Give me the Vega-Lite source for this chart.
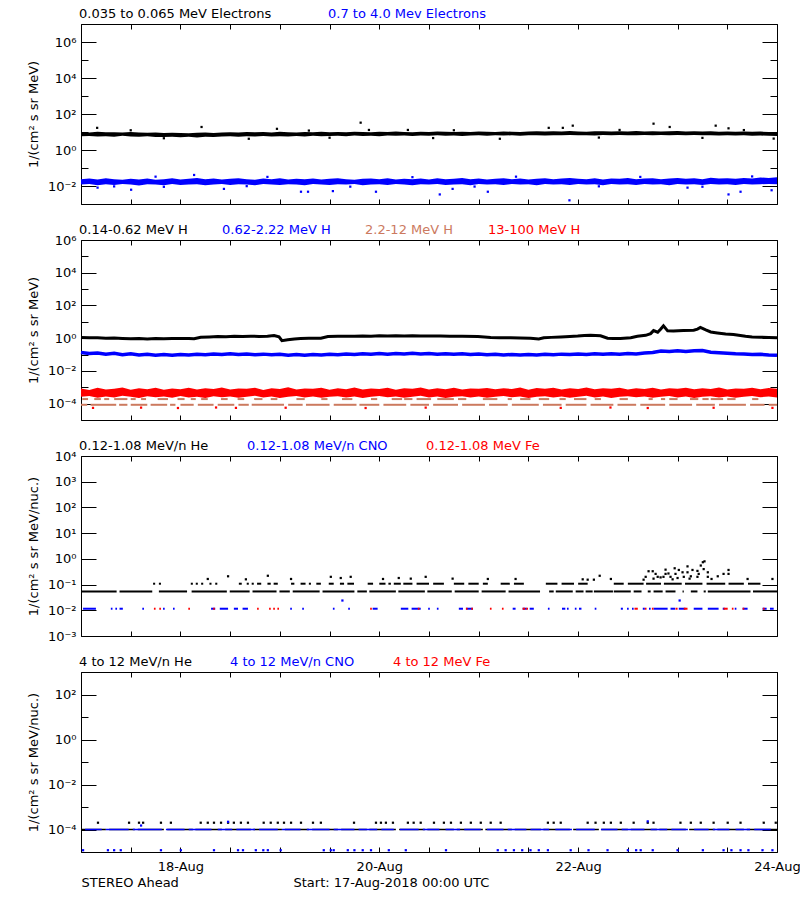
{
"$schema": "https://vega.github.io/schema/vega-lite/v6.json",
"background": "white",
"padding": {"left": 26, "top": 6, "right": 0, "bottom": 0},
"spacing": 36,
"bounds": "flush",
"resolve": {"scale": {"color": "independent"}, "legend": {"color": "independent"}},
"config": {
  "font": "DejaVu Sans",
  "view": {"stroke": "black", "strokeWidth": 1},
  "axis": {"grid": false, "domain": false, "tickColor": "black", "tickWidth": 1, "labelColor": "black", "labelFont": "DejaVu Sans", "labelFontSize": 13, "titleColor": "black", "titleFont": "DejaVu Sans", "titleFontSize": 13, "titleFontWeight": "normal", "labelOverlap": false, "labelFlush": false},
  "legend": {"labelFont": "DejaVu Sans", "labelFontSize": 13}
},
"datasets": {
"p1": [
{"h":0,"k1":5.8,"k2":9.9,"b1":0.012,"b2":0.024},
{"h":2,"k1":6.0,"k2":9.4,"b1":0.013,"b2":0.026},
{"h":4,"k1":5.6,"k2":10.2,"b1":0.011,"b2":0.023},
{"h":6,"k1":5.9,"k2":9.6,"b1":0.0125,"b2":0.027},
{"h":8,"k1":5.5,"k2":9.8,"b1":0.0115,"b2":0.024},
{"h":10,"k1":6.1,"k2":9.3,"b1":0.013,"b2":0.022},
{"h":12,"k1":5.7,"k2":10.0,"b1":0.012,"b2":0.025},
{"h":14,"k1":5.4,"k2":9.5,"b1":0.0105,"b2":0.023},
{"h":16,"k1":5.8,"k2":9.1,"b1":0.0125,"b2":0.026},
{"h":18,"k1":5.3,"k2":9.4,"b1":0.012,"b2":0.022},
{"h":20,"k1":5.2,"k2":8.8,"b1":0.011,"b2":0.024},
{"h":22,"k1":5.5,"k2":9.2,"b1":0.013,"b2":0.027},
{"h":24,"k1":5.1,"k2":8.9,"b1":0.0115,"b2":0.023},
{"h":26,"k1":5.4,"k2":8.6,"b1":0.012,"b2":0.025},
{"h":28,"k1":5.0,"k2":9.0,"b1":0.0125,"b2":0.028},
{"h":30,"k1":5.5,"k2":9.3,"b1":0.011,"b2":0.024},
{"h":32,"k1":5.3,"k2":8.9,"b1":0.012,"b2":0.026},
{"h":34,"k1":5.6,"k2":9.5,"b1":0.013,"b2":0.023},
{"h":36,"k1":5.9,"k2":9.8,"b1":0.0115,"b2":0.025},
{"h":38,"k1":5.5,"k2":9.4,"b1":0.0125,"b2":0.027},
{"h":40,"k1":5.8,"k2":10.1,"b1":0.012,"b2":0.024},
{"h":42,"k1":5.6,"k2":9.6,"b1":0.011,"b2":0.022},
{"h":44,"k1":6.0,"k2":9.9,"b1":0.013,"b2":0.026},
{"h":46,"k1":5.7,"k2":9.4,"b1":0.012,"b2":0.024},
{"h":48,"k1":5.9,"k2":10.2,"b1":0.0115,"b2":0.027},
{"h":50,"k1":5.6,"k2":9.7,"b1":0.0125,"b2":0.023},
{"h":52,"k1":6.0,"k2":9.5,"b1":0.012,"b2":0.025},
{"h":54,"k1":5.7,"k2":10.0,"b1":0.011,"b2":0.024},
{"h":56,"k1":6.1,"k2":9.6,"b1":0.013,"b2":0.026},
{"h":58,"k1":5.8,"k2":10.3,"b1":0.012,"b2":0.023},
{"h":60,"k1":6.0,"k2":9.8,"b1":0.0115,"b2":0.025},
{"h":62,"k1":6.2,"k2":10.1,"b1":0.0125,"b2":0.027},
{"h":64,"k1":5.9,"k2":9.7,"b1":0.012,"b2":0.024},
{"h":66,"k1":6.3,"k2":10.4,"b1":0.013,"b2":0.022},
{"h":68,"k1":6.0,"k2":10.0,"b1":0.011,"b2":0.025},
{"h":70,"k1":6.2,"k2":9.6,"b1":0.012,"b2":0.026},
{"h":72,"k1":5.9,"k2":10.2,"b1":0.0125,"b2":0.024},
{"h":74,"k1":6.3,"k2":9.9,"b1":0.0115,"b2":0.027},
{"h":76,"k1":6.1,"k2":10.5,"b1":0.013,"b2":0.023},
{"h":78,"k1":6.4,"k2":10.1,"b1":0.012,"b2":0.025},
{"h":80,"k1":6.0,"k2":9.8,"b1":0.011,"b2":0.024},
{"h":82,"k1":6.3,"k2":10.3,"b1":0.0125,"b2":0.026},
{"h":84,"k1":6.1,"k2":9.9,"b1":0.012,"b2":0.023},
{"h":86,"k1":6.5,"k2":10.6,"b1":0.013,"b2":0.027},
{"h":88,"k1":6.2,"k2":10.2,"b1":0.0115,"b2":0.024},
{"h":90,"k1":6.4,"k2":9.9,"b1":0.012,"b2":0.025},
{"h":92,"k1":6.0,"k2":10.4,"b1":0.0125,"b2":0.028},
{"h":94,"k1":6.3,"k2":10.0,"b1":0.011,"b2":0.024},
{"h":96,"k1":6.6,"k2":10.7,"b1":0.013,"b2":0.026},
{"h":98,"k1":6.2,"k2":10.3,"b1":0.012,"b2":0.023},
{"h":100,"k1":6.5,"k2":10.1,"b1":0.0125,"b2":0.025},
{"h":102,"k1":6.3,"k2":10.8,"b1":0.0115,"b2":0.027},
{"h":104,"k1":6.6,"k2":10.4,"b1":0.013,"b2":0.024},
{"h":106,"k1":6.2,"k2":10.0,"b1":0.012,"b2":0.026},
{"h":108,"k1":6.5,"k2":10.6,"b1":0.0125,"b2":0.023},
{"h":110,"k1":6.7,"k2":10.9,"b1":0.011,"b2":0.025},
{"h":112,"k1":6.4,"k2":10.5,"b1":0.013,"b2":0.027},
{"h":114,"k1":6.7,"k2":11.0,"b1":0.012,"b2":0.024},
{"h":116,"k1":6.5,"k2":10.7,"b1":0.0125,"b2":0.026},
{"h":118,"k1":6.8,"k2":11.2,"b1":0.0115,"b2":0.028},
{"h":120,"k1":6.5,"k2":10.8,"b1":0.013,"b2":0.025},
{"h":122,"k1":6.7,"k2":10.4,"b1":0.012,"b2":0.024},
{"h":124,"k1":6.4,"k2":10.9,"b1":0.0125,"b2":0.027},
{"h":126,"k1":6.8,"k2":11.1,"b1":0.011,"b2":0.023},
{"h":128,"k1":6.6,"k2":10.6,"b1":0.013,"b2":0.026},
{"h":130,"k1":6.9,"k2":11.0,"b1":0.012,"b2":0.025},
{"h":132,"k1":6.5,"k2":10.7,"b1":0.0125,"b2":0.028},
{"h":134,"k1":6.7,"k2":11.2,"b1":0.0115,"b2":0.024},
{"h":136,"k1":6.9,"k2":10.8,"b1":0.013,"b2":0.026},
{"h":138,"k1":6.6,"k2":11.1,"b1":0.012,"b2":0.027},
{"h":140,"k1":6.8,"k2":10.6,"b1":0.0125,"b2":0.024},
{"h":142,"k1":6.5,"k2":10.9,"b1":0.011,"b2":0.026},
{"h":144,"k1":6.8,"k2":11.3,"b1":0.013,"b2":0.028},
{"h":146,"k1":6.6,"k2":10.8,"b1":0.012,"b2":0.025},
{"h":148,"k1":6.9,"k2":11.0,"b1":0.0125,"b2":0.027},
{"h":150,"k1":6.5,"k2":10.5,"b1":0.0115,"b2":0.024},
{"h":152,"k1":6.7,"k2":10.9,"b1":0.013,"b2":0.029},
{"h":154,"k1":6.4,"k2":10.4,"b1":0.012,"b2":0.026},
{"h":156,"k1":6.6,"k2":10.8,"b1":0.0125,"b2":0.027},
{"h":158,"k1":6.3,"k2":10.3,"b1":0.0115,"b2":0.025},
{"h":160,"k1":6.5,"k2":10.6,"b1":0.013,"b2":0.028},
{"h":162,"k1":6.2,"k2":10.2,"b1":0.012,"b2":0.026},
{"h":164,"k1":6.4,"k2":10.5,"b1":0.0125,"b2":0.03},
{"h":166,"k1":6.1,"k2":10.0,"b1":0.013,"b2":0.028},
{"h":168,"k1":6.0,"k2":9.9,"b1":0.0125,"b2":0.031}
],
"p1k": [
{"h":3.9,"v":17},{"h":29.1,"v":19},{"h":40.5,"v":4.2},{"h":47.3,"v":15},{"h":67.5,"v":33},{"h":69.5,"v":13},{"h":78.9,"v":13},{"h":101.1,"v":4.2},{"h":112.9,"v":17},{"h":116.3,"v":17},{"h":118.7,"v":22.5},{"h":138.2,"v":29},{"h":142.1,"v":19},{"h":153.2,"v":22.5},{"h":156.3,"v":16},{"h":167.2,"v":4.3},{"h":12,"v":12.5},{"h":55,"v":12},{"h":90,"v":12.5},{"h":130,"v":13},{"h":20,"v":4.5},{"h":60,"v":4.8},{"h":85,"v":4.6},{"h":125,"v":4.9},{"h":150,"v":4.7},{"h":160,"v":12.8}
],
"p1b": [
{"h":4,"v":0.0081},{"h":12.1,"v":0.0062},{"h":27.3,"v":0.041},{"h":34.5,"v":0.0069},{"h":53.1,"v":0.0048},{"h":54.8,"v":0.0048},{"h":60.8,"v":0.0052},{"h":71.2,"v":0.0048},{"h":86.6,"v":0.0034},{"h":89.7,"v":0.0069},{"h":98.2,"v":0.0048},{"h":117.9,"v":0.0016},{"h":146.4,"v":0.0081},{"h":156.3,"v":0.0034},{"h":159.2,"v":0.0048},{"h":166.7,"v":0.0058},{"h":8,"v":0.0095},{"h":20,"v":0.009},{"h":40,"v":0.0098},{"h":65,"v":0.0092},{"h":80,"v":0.031},{"h":95,"v":0.0093},{"h":105,"v":0.033},{"h":125,"v":0.0096},{"h":135,"v":0.032},{"h":150,"v":0.0091},{"h":162,"v":0.034},{"h":45,"v":0.032},{"h":18,"v":0.033}
],
"p2k": [
{"h":0,"v":1.1},{"h":2,"v":1.05},{"h":4,"v":1.08},{"h":6,"v":1.0},{"h":8,"v":1.03},{"h":10,"v":0.97},{"h":12,"v":0.92},{"h":14,"v":0.95},{"h":16,"v":0.9},{"h":18,"v":0.94},{"h":20,"v":0.93},{"h":22,"v":0.97},{"h":24,"v":0.95},{"h":26,"v":0.96},{"h":27.3,"v":0.93},{"h":28.9,"v":1.15},{"h":31,"v":1.2},{"h":33,"v":1.25},{"h":35,"v":1.22},{"h":37,"v":1.3},{"h":39,"v":1.26},{"h":41,"v":1.32},{"h":43,"v":1.28},{"h":45,"v":1.33},{"h":46.6,"v":1.45},{"h":47.8,"v":1.2},{"h":48.5,"v":0.7},{"h":49.9,"v":0.8},{"h":51.5,"v":0.9},{"h":53,"v":0.95},{"h":55,"v":0.98},{"h":57.9,"v":1.0},{"h":59.6,"v":1.25},{"h":62,"v":1.3},{"h":64,"v":1.33},{"h":66,"v":1.3},{"h":68,"v":1.36},{"h":70,"v":1.33},{"h":72,"v":1.4},{"h":74,"v":1.37},{"h":76,"v":1.42},{"h":78,"v":1.38},{"h":80,"v":1.4},{"h":82,"v":1.36},{"h":84,"v":1.38},{"h":86.8,"v":1.35},{"h":89,"v":1.32},{"h":92,"v":1.3},{"h":95.8,"v":1.25},{"h":98.9,"v":1.1},{"h":101,"v":1.08},{"h":103.7,"v":1.05},{"h":106,"v":1.02},{"h":108.5,"v":1.0},{"h":110.5,"v":0.9},{"h":111.7,"v":1.05},{"h":113.5,"v":1.12},{"h":115.8,"v":1.2},{"h":118,"v":1.28},{"h":119.9,"v":1.35},{"h":121.5,"v":1.45},{"h":123,"v":1.5},{"h":125.4,"v":1.4},{"h":127.1,"v":1.0},{"h":128.5,"v":0.95},{"h":130.2,"v":0.95},{"h":132.7,"v":1.05},{"h":134.3,"v":1.3},{"h":136.3,"v":1.5},{"h":137.5,"v":1.9},{"h":138.2,"v":2.9},{"h":139.2,"v":2.3},{"h":139.9,"v":3.5},{"h":140.6,"v":5.7},{"h":141.6,"v":2.8},{"h":143,"v":2.7},{"h":145.4,"v":2.9},{"h":147.9,"v":3.1},{"h":148.8,"v":3.6},{"h":149.5,"v":4.5},{"h":150.8,"v":3.2},{"h":152,"v":2.4},{"h":153.6,"v":2.1},{"h":155.6,"v":1.8},{"h":157.5,"v":1.7},{"h":160.4,"v":1.3},{"h":162,"v":1.2},{"h":164,"v":1.15},{"h":166,"v":1.1},{"h":168,"v":1.05}
],
"p2": [
{"h":0,"b":0.135,"r1":0.00026,"r2":0.00085},
{"h":2,"b":0.115,"r1":0.00029,"r2":0.00068},
{"h":4,"b":0.125,"r1":0.00023,"r2":0.00092},
{"h":6,"b":0.105,"r1":0.00027,"r2":0.00074},
{"h":8,"b":0.118,"r1":0.00024,"r2":0.0008},
{"h":10,"b":0.098,"r1":0.0003,"r2":0.00098},
{"h":12,"b":0.11,"r1":0.00026,"r2":0.00071},
{"h":14,"b":0.095,"r1":0.00022,"r2":0.00088},
{"h":16,"b":0.105,"r1":0.00028,"r2":0.00076},
{"h":18,"b":0.092,"r1":0.00025,"r2":0.00095},
{"h":20,"b":0.1,"r1":0.00027,"r2":0.0007},
{"h":22,"b":0.09,"r1":0.00023,"r2":0.00083},
{"h":24,"b":0.102,"r1":0.00029,"r2":0.00077},
{"h":26,"b":0.094,"r1":0.00024,"r2":0.00093},
{"h":28,"b":0.105,"r1":0.00026,"r2":0.00072},
{"h":30,"b":0.097,"r1":0.00022,"r2":0.00086},
{"h":32,"b":0.108,"r1":0.00028,"r2":0.00079},
{"h":34,"b":0.099,"r1":0.00025,"r2":0.00097},
{"h":36,"b":0.11,"r1":0.00027,"r2":0.00073},
{"h":38,"b":0.1,"r1":0.00023,"r2":0.00084},
{"h":40,"b":0.107,"r1":0.00026,"r2":0.0008},
{"h":42,"b":0.097,"r1":0.0003,"r2":0.00094},
{"h":44,"b":0.106,"r1":0.00024,"r2":0.00069},
{"h":46,"b":0.096,"r1":0.00027,"r2":0.00087},
{"h":48,"b":0.103,"r1":0.00022,"r2":0.00078},
{"h":50,"b":0.092,"r1":0.00026,"r2":0.00099},
{"h":52,"b":0.1,"r1":0.00029,"r2":0.00074},
{"h":54,"b":0.091,"r1":0.00024,"r2":0.00085},
{"h":56,"b":0.099,"r1":0.00027,"r2":0.0008},
{"h":58,"b":0.093,"r1":0.00023,"r2":0.00092},
{"h":60,"b":0.104,"r1":0.00026,"r2":0.00071},
{"h":62,"b":0.097,"r1":0.00028,"r2":0.00088},
{"h":64,"b":0.108,"r1":0.00024,"r2":0.00076},
{"h":66,"b":0.1,"r1":0.00027,"r2":0.00096},
{"h":68,"b":0.112,"r1":0.00022,"r2":0.00073},
{"h":70,"b":0.103,"r1":0.00026,"r2":0.00084},
{"h":72,"b":0.115,"r1":0.00029,"r2":0.00079},
{"h":74,"b":0.106,"r1":0.00025,"r2":0.00093},
{"h":76,"b":0.117,"r1":0.00027,"r2":0.0007},
{"h":78,"b":0.108,"r1":0.00023,"r2":0.00086},
{"h":80,"b":0.118,"r1":0.00026,"r2":0.00081},
{"h":82,"b":0.109,"r1":0.0003,"r2":0.00097},
{"h":84,"b":0.116,"r1":0.00024,"r2":0.00074},
{"h":86,"b":0.106,"r1":0.00027,"r2":0.00088},
{"h":88,"b":0.113,"r1":0.00022,"r2":0.00077},
{"h":90,"b":0.104,"r1":0.00026,"r2":0.00095},
{"h":92,"b":0.11,"r1":0.00028,"r2":0.00072},
{"h":94,"b":0.1,"r1":0.00024,"r2":0.00085},
{"h":96,"b":0.107,"r1":0.00027,"r2":0.0008},
{"h":98,"b":0.097,"r1":0.00023,"r2":0.00091},
{"h":100,"b":0.104,"r1":0.00026,"r2":0.00075},
{"h":102,"b":0.095,"r1":0.00029,"r2":0.00087},
{"h":104,"b":0.102,"r1":0.00025,"r2":0.00078},
{"h":106,"b":0.094,"r1":0.00027,"r2":0.00096},
{"h":108,"b":0.101,"r1":0.00022,"r2":0.00071},
{"h":110,"b":0.093,"r1":0.00026,"r2":0.00089},
{"h":112,"b":0.103,"r1":0.00028,"r2":0.00082},
{"h":114,"b":0.096,"r1":0.00024,"r2":0.00094},
{"h":116,"b":0.106,"r1":0.00027,"r2":0.00073},
{"h":118,"b":0.099,"r1":0.00023,"r2":0.00086},
{"h":120,"b":0.108,"r1":0.00026,"r2":0.00079},
{"h":122,"b":0.1,"r1":0.0003,"r2":0.00098},
{"h":124,"b":0.11,"r1":0.00024,"r2":0.00076},
{"h":126,"b":0.103,"r1":0.00027,"r2":0.00088},
{"h":128,"b":0.112,"r1":0.00022,"r2":0.00081},
{"h":130,"b":0.105,"r1":0.00026,"r2":0.00093},
{"h":132,"b":0.114,"r1":0.00028,"r2":0.00074},
{"h":134,"b":0.108,"r1":0.00025,"r2":0.00087},
{"h":136,"b":0.125,"r1":0.00027,"r2":0.00079},
{"h":138,"b":0.135,"r1":0.00023,"r2":0.00095},
{"h":140,"b":0.165,"r1":0.00026,"r2":0.00072},
{"h":142,"b":0.152,"r1":0.00029,"r2":0.00086},
{"h":144,"b":0.168,"r1":0.00024,"r2":0.0008},
{"h":146,"b":0.155,"r1":0.00027,"r2":0.00092},
{"h":148,"b":0.172,"r1":0.00022,"r2":0.00075},
{"h":150,"b":0.178,"r1":0.00026,"r2":0.00088},
{"h":152,"b":0.14,"r1":0.00028,"r2":0.00078},
{"h":154,"b":0.128,"r1":0.00024,"r2":0.00096},
{"h":156,"b":0.12,"r1":0.00027,"r2":0.00073},
{"h":158,"b":0.112,"r1":0.00023,"r2":0.00085},
{"h":160,"b":0.108,"r1":0.00026,"r2":0.0008},
{"h":162,"b":0.1,"r1":0.00029,"r2":0.00094},
{"h":164,"b":0.104,"r1":0.00025,"r2":0.00077},
{"h":166,"b":0.095,"r1":0.00027,"r2":0.00089},
{"h":168,"b":0.09,"r1":0.00024,"r2":0.00082}
],
"p2s": [
{"s":0,"e":1.5,"v":0.000085},{"s":2.3,"e":8.5,"v":0.000085},{"s":9.2,"e":11.2,"v":0.000085},{"s":12,"e":16,"v":0.000085},{"s":16.8,"e":20.8,"v":0.000085},{"s":21.5,"e":22.8,"v":0.000085},{"s":24,"e":27.2,"v":0.000085},{"s":28.2,"e":32,"v":0.000085},{"s":33,"e":37,"v":0.000085},{"s":38,"e":40.5,"v":0.000085},{"s":41.2,"e":49,"v":0.000085},{"s":50,"e":53.5,"v":0.000085},{"s":54.3,"e":60,"v":0.000085},{"s":61,"e":66.5,"v":0.000085},{"s":67.2,"e":72,"v":0.000085},{"s":73,"e":78.5,"v":0.000085},{"s":79.5,"e":84,"v":0.000085},{"s":85,"e":91,"v":0.000085},{"s":92,"e":97.5,"v":0.000085},{"s":98.5,"e":103,"v":0.000085},{"s":104,"e":110.5,"v":0.000085},{"s":111.5,"e":116,"v":0.000085},{"s":117,"e":122,"v":0.000085},{"s":123,"e":128.5,"v":0.000085},{"s":129.5,"e":134,"v":0.000085},{"s":135,"e":141,"v":0.000085},{"s":142,"e":147.5,"v":0.000085},{"s":148.5,"e":153,"v":0.000085},{"s":154,"e":160.5,"v":0.000085},{"s":161.5,"e":165,"v":0.000085},{"s":166,"e":168,"v":0.000085},
{"s":0.3,"e":1.7,"v":0.00019},{"s":3.2,"e":4.8,"v":0.00019},{"s":5.6,"e":6.8,"v":0.00019},{"s":8,"e":11.2,"v":0.00019},{"s":12,"e":13.2,"v":0.00019},{"s":14.5,"e":15.7,"v":0.00019},{"s":18.5,"e":21,"v":0.00019},{"s":23.3,"e":25,"v":0.00019},{"s":26.5,"e":27.7,"v":0.00019},{"s":29,"e":30.6,"v":0.00019},{"s":33.8,"e":35.4,"v":0.00019},{"s":37.8,"e":39.4,"v":0.00019},{"s":41.8,"e":43.8,"v":0.00019},{"s":45.8,"e":47.4,"v":0.00019},{"s":52,"e":54,"v":0.00019},{"s":58,"e":59.5,"v":0.00019},{"s":63,"e":65.5,"v":0.00019},{"s":70,"e":71.5,"v":0.00019},{"s":75,"e":77.5,"v":0.00019},{"s":78,"e":80,"v":0.00019},{"s":81,"e":84.5,"v":0.00019},{"s":86,"e":90,"v":0.00019},{"s":91,"e":93,"v":0.00019},{"s":97,"e":100.5,"v":0.00019},{"s":103,"e":104,"v":0.00019},{"s":106,"e":108.5,"v":0.00019},{"s":110.5,"e":113,"v":0.00019},{"s":115.5,"e":117,"v":0.00019},{"s":119,"e":122,"v":0.00019},{"s":124,"e":125.5,"v":0.00019},{"s":130,"e":132,"v":0.00019},{"s":137,"e":138,"v":0.00019},{"s":140,"e":141,"v":0.00019},{"s":142,"e":144,"v":0.00019},{"s":147,"e":149,"v":0.00019},{"s":150,"e":151.5,"v":0.00019},{"s":152,"e":155,"v":0.00019},{"s":156,"e":158,"v":0.00019},{"s":162,"e":163.5,"v":0.00019}
],
"p2r": [
{"h":2.9,"v":0.000055},{"h":14.5,"v":0.000057},{"h":23.4,"v":0.000054},{"h":32.6,"v":0.000058},{"h":37.4,"v":0.000055},{"h":49.4,"v":0.000056},{"h":68.7,"v":0.000054},{"h":83.2,"v":0.000057},{"h":115.8,"v":0.000055},{"h":127.8,"v":0.000058},{"h":136.8,"v":0.000054},{"h":152.7,"v":0.000056},{"h":166.9,"v":0.000055}
],
"p3a": [
{"s":0,"e":8.6,"v":0.054},{"s":9.3,"e":17.2,"v":0.054},{"s":18.8,"e":25.6,"v":0.054},{"s":26.7,"e":35.2,"v":0.054},{"s":35.9,"e":40.7,"v":0.054},{"s":41.4,"e":47.2,"v":0.054},{"s":47.9,"e":50.4,"v":0.054},{"s":51.1,"e":57.6,"v":0.054},{"s":58.3,"e":66,"v":0.054},{"s":66.7,"e":69,"v":0.054},{"s":69.6,"e":76,"v":0.054},{"s":76.6,"e":83,"v":0.054},{"s":83.6,"e":89.5,"v":0.054},{"s":90.2,"e":96,"v":0.054},{"s":96.7,"e":102.5,"v":0.054},{"s":103.2,"e":110.8,"v":0.054},{"s":113,"e":114.1,"v":0.054},{"s":114.6,"e":118.7,"v":0.054},{"s":119.4,"e":121.3,"v":0.054},{"s":121.8,"e":123.5,"v":0.054},{"s":123.8,"e":128.4,"v":0.054},{"s":128.6,"e":132.7,"v":0.054},{"s":133.4,"e":135.3,"v":0.054},{"s":136.8,"e":137.5,"v":0.054},{"s":138.2,"e":140.4,"v":0.054},{"s":141.1,"e":143.5,"v":0.054},{"s":145.2,"e":145.5,"v":0.054},{"s":147.2,"e":148.8,"v":0.054},{"s":150.3,"e":150.8,"v":0.054},{"s":151.3,"e":161.6,"v":0.054},{"s":162.2,"e":168,"v":0.054},
{"s":17.4,"e":17.9,"v":0.108},{"s":18.8,"e":19.3,"v":0.108},{"s":26.5,"e":27,"v":0.108},{"s":27.7,"e":28.2,"v":0.108},{"s":29,"e":29.5,"v":0.108},{"s":31,"e":31.5,"v":0.108},{"s":32.4,"e":32.9,"v":0.108},{"s":38.1,"e":38.8,"v":0.108},{"s":40,"e":40.5,"v":0.108},{"s":41.2,"e":41.7,"v":0.108},{"s":42.5,"e":43.5,"v":0.108},{"s":45,"e":45.8,"v":0.108},{"s":46.5,"e":47.5,"v":0.108},{"s":50.7,"e":51.5,"v":0.108},{"s":53,"e":54.2,"v":0.108},{"s":55,"e":55.5,"v":0.108},{"s":56.8,"e":57.9,"v":0.108},{"s":59.8,"e":61,"v":0.108},{"s":62.5,"e":63.5,"v":0.108},{"s":64.3,"e":65.9,"v":0.108},{"s":69.2,"e":70.5,"v":0.108},{"s":72,"e":73.5,"v":0.108},{"s":74.2,"e":74.8,"v":0.108},{"s":75.5,"e":77.2,"v":0.108},{"s":77.8,"e":80,"v":0.108},{"s":81,"e":84,"v":0.108},{"s":85,"e":87.6,"v":0.108},{"s":90,"e":92.5,"v":0.108},{"s":93.5,"e":96,"v":0.108},{"s":97,"e":98.2,"v":0.108},{"s":101.3,"e":103.5,"v":0.108},{"s":104.5,"e":106.9,"v":0.108},{"s":112.2,"e":115,"v":0.108},{"s":116,"e":119,"v":0.108},{"s":120,"e":122.3,"v":0.108},{"s":128.6,"e":131,"v":0.108},{"s":132,"e":135.8,"v":0.108},{"s":136.4,"e":140,"v":0.108},{"s":140.7,"e":145,"v":0.108},{"s":145.8,"e":150,"v":0.108},{"s":151,"e":155.5,"v":0.108},{"s":156.3,"e":160,"v":0.108},{"s":161,"e":164,"v":0.108}
],
"p3k": [
{"h":30.6,"v":0.165},{"h":35.5,"v":0.21},{"h":39.8,"v":0.16},{"h":45.1,"v":0.22},{"h":50.7,"v":0.165},{"h":60.3,"v":0.2},{"h":62.7,"v":0.18},{"h":65.1,"v":0.2},{"h":72.9,"v":0.165},{"h":76.7,"v":0.18},{"h":79.6,"v":0.17},{"h":83.2,"v":0.2},{"h":89.7,"v":0.17},{"h":98.2,"v":0.165},{"h":104.9,"v":0.165},{"h":121.1,"v":0.16},{"h":125.2,"v":0.22},{"h":127.9,"v":0.165},{"h":160.9,"v":0.165},{"h":166.9,"v":0.165},
{"h":122.3,"v":0.155},{"h":123.8,"v":0.155},{"h":135.8,"v":0.155},{"h":137,"v":0.33},{"h":138,"v":0.33},{"h":138.7,"v":0.26},{"h":138.2,"v":0.17},{"h":139.2,"v":0.2},{"h":139.9,"v":0.19},{"h":141.1,"v":0.38},{"h":141.1,"v":0.26},{"h":142.3,"v":0.2},{"h":143.3,"v":0.43},{"h":144,"v":0.18},{"h":144.3,"v":0.37},{"h":145.5,"v":0.2},{"h":146.4,"v":0.51},{"h":146.4,"v":0.3},{"h":147.2,"v":0.21},{"h":148.8,"v":0.34},{"h":148.8,"v":0.2},{"h":149.6,"v":0.55},{"h":150.1,"v":0.74},{"h":150.5,"v":0.8},{"h":150.3,"v":0.4},{"h":151.3,"v":0.2},{"h":153.7,"v":0.21},{"h":155.1,"v":0.26},{"h":156.3,"v":0.37},{"h":156.3,"v":0.26},{"h":136.3,"v":0.2},{"h":140.6,"v":0.2},{"h":141.8,"v":0.27},{"h":145.2,"v":0.3},{"h":147.6,"v":0.37},{"h":149.1,"v":0.26},{"h":151.3,"v":0.3},{"h":143.5,"v":0.26},{"h":142.8,"v":0.16},{"h":146.9,"v":0.17},{"h":152.2,"v":0.165}
],
"p3c": [
{"s":0.5,"e":3.6,"v":0.0115},{"s":7.2,"e":7.6,"v":0.0115},{"s":8.3,"e":8.7,"v":0.0115},{"s":9.3,"e":10.1,"v":0.0115},{"s":14.8,"e":15.2,"v":0.0115},{"s":19.8,"e":20.2,"v":0.0115},{"s":22.2,"e":22.6,"v":0.0115},{"s":31.4,"e":32.4,"v":0.0115},{"s":33.5,"e":35.5,"v":0.0115},{"s":36.9,"e":37.9,"v":0.0115},{"s":39,"e":40.3,"v":0.0115},{"s":50.5,"e":50.9,"v":0.0115},{"s":53.4,"e":53.8,"v":0.0115},{"s":60.8,"e":61.2,"v":0.0115},{"s":64.5,"e":64.9,"v":0.0115},{"s":70.4,"e":71.6,"v":0.0115},{"s":77.2,"e":79,"v":0.0115},{"s":79.8,"e":82,"v":0.0115},{"s":83.8,"e":84.2,"v":0.0115},{"s":85.9,"e":86.3,"v":0.0115},{"s":91.2,"e":92.2,"v":0.0115},{"s":93,"e":94.6,"v":0.0115},{"s":104.2,"e":104.9,"v":0.0115},{"s":106.6,"e":107.6,"v":0.0115},{"s":108.3,"e":109.3,"v":0.0115},{"s":112.7,"e":113.1,"v":0.0115},{"s":116.1,"e":116.9,"v":0.0115},{"s":117.3,"e":117.7,"v":0.0115},{"s":119.2,"e":119.6,"v":0.0115},{"s":120.2,"e":120.8,"v":0.0115},{"s":124,"e":124.4,"v":0.0115},{"s":130.3,"e":130.8,"v":0.0115},{"s":131.8,"e":132.2,"v":0.0115},{"s":133,"e":133.4,"v":0.0115},{"s":135.6,"e":136.1,"v":0.0115},{"s":137.1,"e":137.5,"v":0.0115},{"s":138.2,"e":141.6,"v":0.0115},{"s":142.3,"e":143.4,"v":0.0115},{"s":144.3,"e":145.9,"v":0.0115},{"s":147.9,"e":150,"v":0.0115},{"s":151.3,"e":153.9,"v":0.0115},{"s":154.9,"e":155.4,"v":0.0115},{"s":157.8,"e":158.2,"v":0.0115},{"s":159.7,"e":160.9,"v":0.0115},{"s":164.5,"e":165.5,"v":0.0115},{"s":166.3,"e":167.2,"v":0.0115}
],
"p3cp": [
{"h":63.1,"v":0.024},{"h":144.5,"v":0.024}
],
"p3f": [
{"s":17.6,"e":18,"v":0.0115},{"s":18.9,"e":19.3,"v":0.0115},{"s":25.9,"e":26.3,"v":0.0115},{"s":31.9,"e":32.3,"v":0.0115},{"s":42.5,"e":42.9,"v":0.0115},{"s":45.4,"e":45.8,"v":0.0115},{"s":46.4,"e":46.8,"v":0.0115},{"s":47.4,"e":47.8,"v":0.0115},{"s":69.8,"e":70.2,"v":0.0115},{"s":81.3,"e":81.7,"v":0.0115},{"s":92.9,"e":93.3,"v":0.0115},{"s":94.2,"e":94.6,"v":0.0115},{"s":98.7,"e":99.1,"v":0.0115},{"s":101.6,"e":102,"v":0.0115},{"s":106.6,"e":107.2,"v":0.0115},{"s":107.5,"e":107.9,"v":0.0115},{"s":133.6,"e":134.4,"v":0.0115},{"s":136.1,"e":136.5,"v":0.0115},{"s":137.8,"e":138.2,"v":0.0115},{"s":143.5,"e":144,"v":0.0115},{"s":145.5,"e":146.4,"v":0.0115},{"s":155.1,"e":156.1,"v":0.0115},{"s":157.1,"e":157.5,"v":0.0115},{"s":159.7,"e":160.1,"v":0.0115},{"s":164.6,"e":165,"v":0.0115}
],
"p4k": [
{"s":0,"e":6,"v":0.0001},{"s":6.8,"e":13,"v":0.0001},{"s":13.7,"e":20,"v":0.0001},{"s":20.8,"e":27,"v":0.0001},{"s":27.6,"e":34,"v":0.0001},{"s":34.8,"e":41,"v":0.0001},{"s":41.6,"e":48.5,"v":0.0001},{"s":49.2,"e":55,"v":0.0001},{"s":55.8,"e":62,"v":0.0001},{"s":62.8,"e":69,"v":0.0001},{"s":69.6,"e":76,"v":0.0001},{"s":76.8,"e":83,"v":0.0001},{"s":83.6,"e":90,"v":0.0001},{"s":90.7,"e":97,"v":0.0001},{"s":97.6,"e":104,"v":0.0001},{"s":104.7,"e":111,"v":0.0001},{"s":111.6,"e":118,"v":0.0001},{"s":118.8,"e":125,"v":0.0001},{"s":125.6,"e":132,"v":0.0001},{"s":132.7,"e":139,"v":0.0001},{"s":139.6,"e":146,"v":0.0001},{"s":146.8,"e":153,"v":0.0001},{"s":153.6,"e":160,"v":0.0001},{"s":160.7,"e":168,"v":0.0001}
],
"p4kp": [
{"h":4.1,"v":0.0002},{"h":11.6,"v":0.0002},{"h":14,"v":0.0002},{"h":15,"v":0.0002},{"h":19.3,"v":0.0002},{"h":21.7,"v":0.0002},{"h":28.9,"v":0.0002},{"h":30.6,"v":0.0002},{"h":32.1,"v":0.0002},{"h":33.8,"v":0.0002},{"h":35.5,"v":0.0002},{"h":36.9,"v":0.0002},{"h":38.6,"v":0.0002},{"h":40.3,"v":0.0002},{"h":44.1,"v":0.0002},{"h":45.8,"v":0.0002},{"h":47.5,"v":0.0002},{"h":49,"v":0.0002},{"h":50.7,"v":0.0002},{"h":53.1,"v":0.0002},{"h":56,"v":0.0002},{"h":57.9,"v":0.0002},{"h":65.9,"v":0.0002},{"h":71.2,"v":0.0002},{"h":72.4,"v":0.0002},{"h":73.6,"v":0.0002},{"h":75.3,"v":0.0002},{"h":78.9,"v":0.0002},{"h":80.3,"v":0.0002},{"h":82,"v":0.0002},{"h":85.2,"v":0.0002},{"h":87.6,"v":0.0002},{"h":89.3,"v":0.0002},{"h":91.7,"v":0.0002},{"h":94.1,"v":0.0002},{"h":96.5,"v":0.0002},{"h":98.9,"v":0.0002},{"h":101.3,"v":0.0002},{"h":112.7,"v":0.0002},{"h":114.1,"v":0.0002},{"h":115.8,"v":0.0002},{"h":122.3,"v":0.0002},{"h":124.2,"v":0.0002},{"h":126.2,"v":0.0002},{"h":127.9,"v":0.0002},{"h":130.3,"v":0.0002},{"h":133.4,"v":0.0002},{"h":136.8,"v":0.0002},{"h":138.2,"v":0.0002},{"h":144.7,"v":0.0002},{"h":147.2,"v":0.0002},{"h":149.6,"v":0.0002},{"h":152.7,"v":0.0002},{"h":156.1,"v":0.0002},{"h":159.2,"v":0.0002},{"h":164.8,"v":0.0002},{"h":167.7,"v":0.0002}
],
"p4c": [
{"s":1,"e":5,"v":0.0001},{"s":6,"e":11.5,"v":0.0001},{"s":12.5,"e":19.5,"v":0.0001},{"s":20.5,"e":25,"v":0.0001},{"s":26,"e":31.5,"v":0.0001},{"s":33,"e":36.5,"v":0.0001},{"s":37.5,"e":42,"v":0.0001},{"s":43,"e":47.5,"v":0.0001},{"s":48.5,"e":53,"v":0.0001},{"s":54.5,"e":60,"v":0.0001},{"s":61,"e":66,"v":0.0001},{"s":67,"e":71.5,"v":0.0001},{"s":72.5,"e":75.5,"v":0.0001},{"s":77,"e":81.5,"v":0.0001},{"s":82.5,"e":86.5,"v":0.0001},{"s":88,"e":91.5,"v":0.0001},{"s":92.5,"e":96.5,"v":0.0001},{"s":98,"e":102,"v":0.0001},{"s":103,"e":107.5,"v":0.0001},{"s":108.5,"e":113,"v":0.0001},{"s":114.5,"e":118.5,"v":0.0001},{"s":119.5,"e":124,"v":0.0001},{"s":125.5,"e":129.5,"v":0.0001},{"s":130.5,"e":136,"v":0.0001},{"s":137.5,"e":141.5,"v":0.0001},{"s":142.5,"e":146.5,"v":0.0001},{"s":148,"e":151.5,"v":0.0001},{"s":152.5,"e":156.5,"v":0.0001},{"s":158,"e":161.5,"v":0.0001},{"s":162.5,"e":166.5,"v":0.0001}
],
"p4cp": [
{"h":0.5,"v":0.000012},{"h":6.5,"v":0.000012},{"h":8,"v":0.000012},{"h":9.6,"v":0.000012},{"h":19.3,"v":0.000012},{"h":24.1,"v":0.000012},{"h":32.1,"v":0.000012},{"h":37.9,"v":0.000012},{"h":39.1,"v":0.000012},{"h":42.2,"v":0.000012},{"h":44,"v":0.000012},{"h":45.1,"v":0.000012},{"h":48.2,"v":0.000012},{"h":58.6,"v":0.000012},{"h":60.3,"v":0.000012},{"h":61,"v":0.000012},{"h":64.4,"v":0.000012},{"h":66,"v":0.000012},{"h":68,"v":0.000012},{"h":70,"v":0.000012},{"h":74.3,"v":0.000012},{"h":78.4,"v":0.000012},{"h":88.1,"v":0.000012},{"h":100.6,"v":0.000012},{"h":102.5,"v":0.000012},{"h":104.5,"v":0.000012},{"h":106.5,"v":0.000012},{"h":108.5,"v":0.000012},{"h":110.5,"v":0.000012},{"h":112.7,"v":0.000012},{"h":118.2,"v":0.000012},{"h":122.5,"v":0.000012},{"h":127.1,"v":0.000012},{"h":132,"v":0.000012},{"h":134,"v":0.000012},{"h":135.1,"v":0.000012},{"h":138,"v":0.000012},{"h":144,"v":0.000012},{"h":150.1,"v":0.000012},{"h":155.1,"v":0.000012},{"h":157,"v":0.000012},{"h":159.2,"v":0.000012},{"h":161.1,"v":0.000012},{"h":164.5,"v":0.000012},{"h":166.9,"v":0.000012},
{"h":35.5,"v":0.00022},{"h":136.8,"v":0.00023},{"h":14.5,"v":0.00015}
]
},
"vconcat": [
{
 "width": 696, "height": 180,
 "resolve": {"axis": {"x": "independent", "y": "independent"}},
 "layer": [
  {"data": {"name": "p1"}, "mark": {"type": "area"},
   "encoding": {
    "x": {"field": "h", "type": "quantitative", "scale": {"domain": [0,168], "nice": false, "zero": false},
          "axis": {"orient": "bottom", "values": [0,12,24,36,48,60,72,84,96,108,120,132,144,156,168], "tickSize": -5, "labels": false, "title": null}},
    "y": {"field": "k1", "type": "quantitative", "scale": {"type": "log", "domain": [0.001, 10000000], "nice": false},
          "axis": {"orient": "left", "values": [0.001,0.01,0.1,1,10,100,1000,10000,100000,1000000,10000000],
                   "tickSize": {"condition": {"test": "round(log(datum.value)/LN10) % 2 == 0", "value": -15}, "value": -7},
                   "labelPadding": 20,
                   "labelExpr": "round(log(datum.value)/LN10) % 2 == 0 ? '10' + (datum.value < 1 ? '⁻' : '') + ['⁰','¹','²','³','⁴','⁵','⁶','⁷','⁸','⁹'][abs(round(log(datum.value)/LN10))] : ''",
                   "title": "1/(cm² s sr MeV)", "titlePadding": 7}},
    "y2": {"field": "k2"},
    "color": {"datum": "0.035 to 0.065 MeV Electrons", "type": "nominal",
              "scale": {"domain": ["0.035 to 0.065 MeV Electrons", "0.7 to 4.0 Mev Electrons"], "range": ["#000000", "#0000ff"]},
              "legend": {"orient": "none", "legendX": -15, "legendY": -17, "direction": "horizontal", "columns": 2, "title": null, "padding": 0,
                         "symbolSize": 0, "symbolOpacity": 0, "symbolStrokeWidth": 0, "labelOffset": 0, "columnPadding": 43, "labelLimit": 400, "labelFontSize": 13,
                         "labelColor": {"expr": "datum.value == '0.7 to 4.0 Mev Electrons' ? '#0000ff' : '#000000'"}}}
   }},
  {"data": {"name": "p1k"}, "mark": {"type": "square", "size": 5, "opacity": 1},
   "encoding": {
    "x": {"field": "h", "type": "quantitative", "scale": {"domain": [0,168], "nice": false, "zero": false},
          "axis": {"orient": "top", "values": [0,12,24,36,48,60,72,84,96,108,120,132,144,156,168], "tickSize": -5, "labels": false, "title": null}},
    "y": {"field": "v", "type": "quantitative", "scale": {"type": "log", "domain": [0.001, 10000000], "nice": false},
          "axis": {"orient": "right", "values": [0.001,0.01,0.1,1,10,100,1000,10000,100000,1000000,10000000],
                   "tickSize": {"condition": {"test": "round(log(datum.value)/LN10) % 2 == 0", "value": -15}, "value": -7},
                   "labels": false, "title": null}},
    "color": {"datum": "0.035 to 0.065 MeV Electrons", "type": "nominal",
              "scale": {"domain": ["0.035 to 0.065 MeV Electrons", "0.7 to 4.0 Mev Electrons"], "range": ["#000000", "#0000ff"]}}
   }},
  {"data": {"name": "p1"}, "mark": {"type": "area"},
   "encoding": {
    "x": {"field": "h", "type": "quantitative", "scale": {"domain": [0,168], "nice": false, "zero": false}, "axis": null},
    "y": {"field": "b1", "type": "quantitative", "scale": {"type": "log", "domain": [0.001, 10000000], "nice": false}, "axis": null},
    "y2": {"field": "b2"},
    "color": {"datum": "0.7 to 4.0 Mev Electrons", "type": "nominal",
              "scale": {"domain": ["0.035 to 0.065 MeV Electrons", "0.7 to 4.0 Mev Electrons"], "range": ["#000000", "#0000ff"]}}
   }},
  {"data": {"name": "p1b"}, "mark": {"type": "square", "size": 5, "opacity": 1},
   "encoding": {
    "x": {"field": "h", "type": "quantitative", "scale": {"domain": [0,168], "nice": false, "zero": false}, "axis": null},
    "y": {"field": "v", "type": "quantitative", "scale": {"type": "log", "domain": [0.001, 10000000], "nice": false}, "axis": null},
    "color": {"datum": "0.7 to 4.0 Mev Electrons", "type": "nominal",
              "scale": {"domain": ["0.035 to 0.065 MeV Electrons", "0.7 to 4.0 Mev Electrons"], "range": ["#000000", "#0000ff"]}}
   }}
 ]
},
{
 "width": 696, "height": 180,
 "resolve": {"axis": {"x": "independent", "y": "independent"}},
 "layer": [
  {"data": {"name": "p2k"}, "mark": {"type": "line", "strokeWidth": 3},
   "encoding": {
    "x": {"field": "h", "type": "quantitative", "scale": {"domain": [0,168], "nice": false, "zero": false},
          "axis": {"orient": "bottom", "values": [0,12,24,36,48,60,72,84,96,108,120,132,144,156,168], "tickSize": -5, "labels": false, "title": null}},
    "y": {"field": "v", "type": "quantitative", "scale": {"type": "log", "domain": [0.00001, 1000000], "nice": false},
          "axis": {"orient": "left", "values": [0.00001,0.0001,0.001,0.01,0.1,1,10,100,1000,10000,100000,1000000],
                   "tickSize": {"condition": {"test": "round(log(datum.value)/LN10) % 2 == 0", "value": -15}, "value": -7},
                   "labelPadding": 20,
                   "labelExpr": "round(log(datum.value)/LN10) % 2 == 0 ? '10' + (datum.value < 1 ? '⁻' : '') + ['⁰','¹','²','³','⁴','⁵','⁶','⁷','⁸','⁹'][abs(round(log(datum.value)/LN10))] : ''",
                   "title": "1/(cm² s sr MeV)", "titlePadding": 7}},
    "color": {"datum": "0.14-0.62 MeV H", "type": "nominal",
              "scale": {"domain": ["0.14-0.62 MeV H", "0.62-2.22 MeV H", "2.2-12 MeV H", "13-100 MeV H"], "range": ["#000000", "#0000ff", "#cc7a5f", "#ff0000"]},
              "legend": {"orient": "none", "legendX": -15, "legendY": -17, "direction": "horizontal", "columns": 4, "title": null, "padding": 0,
                         "symbolSize": 0, "symbolOpacity": 0, "symbolStrokeWidth": 0, "labelOffset": 0, "columnPadding": 21, "labelLimit": 400, "labelFontSize": 13,
                         "labelColor": {"expr": "datum.value == '0.62-2.22 MeV H' ? '#0000ff' : datum.value == '2.2-12 MeV H' ? '#cc7a5f' : datum.value == '13-100 MeV H' ? '#ff0000' : '#000000'"}}}
   }},
  {"data": {"name": "p2"}, "mark": {"type": "line", "strokeWidth": 3.5},
   "encoding": {
    "x": {"field": "h", "type": "quantitative", "scale": {"domain": [0,168], "nice": false, "zero": false},
          "axis": {"orient": "top", "values": [0,12,24,36,48,60,72,84,96,108,120,132,144,156,168], "tickSize": -5, "labels": false, "title": null}},
    "y": {"field": "b", "type": "quantitative", "scale": {"type": "log", "domain": [0.00001, 1000000], "nice": false},
          "axis": {"orient": "right", "values": [0.00001,0.0001,0.001,0.01,0.1,1,10,100,1000,10000,100000,1000000],
                   "tickSize": {"condition": {"test": "round(log(datum.value)/LN10) % 2 == 0", "value": -15}, "value": -7},
                   "labels": false, "title": null}},
    "color": {"datum": "0.62-2.22 MeV H", "type": "nominal",
              "scale": {"domain": ["0.14-0.62 MeV H", "0.62-2.22 MeV H", "2.2-12 MeV H", "13-100 MeV H"], "range": ["#000000", "#0000ff", "#cc7a5f", "#ff0000"]}}
   }},
  {"data": {"name": "p2s"}, "mark": {"type": "rule", "strokeWidth": 2},
   "encoding": {
    "x": {"field": "s", "type": "quantitative", "scale": {"domain": [0,168], "nice": false, "zero": false}, "axis": null},
    "x2": {"field": "e"},
    "y": {"field": "v", "type": "quantitative", "scale": {"type": "log", "domain": [0.00001, 1000000], "nice": false}, "axis": null},
    "color": {"datum": "2.2-12 MeV H", "type": "nominal",
              "scale": {"domain": ["0.14-0.62 MeV H", "0.62-2.22 MeV H", "2.2-12 MeV H", "13-100 MeV H"], "range": ["#000000", "#0000ff", "#cc7a5f", "#ff0000"]}}
   }},
  {"data": {"name": "p2"}, "mark": {"type": "area"},
   "encoding": {
    "x": {"field": "h", "type": "quantitative", "scale": {"domain": [0,168], "nice": false, "zero": false}, "axis": null},
    "y": {"field": "r1", "type": "quantitative", "scale": {"type": "log", "domain": [0.00001, 1000000], "nice": false}, "axis": null},
    "y2": {"field": "r2"},
    "color": {"datum": "13-100 MeV H", "type": "nominal",
              "scale": {"domain": ["0.14-0.62 MeV H", "0.62-2.22 MeV H", "2.2-12 MeV H", "13-100 MeV H"], "range": ["#000000", "#0000ff", "#cc7a5f", "#ff0000"]}}
   }},
  {"data": {"name": "p2r"}, "mark": {"type": "square", "size": 5, "opacity": 1},
   "encoding": {
    "x": {"field": "h", "type": "quantitative", "scale": {"domain": [0,168], "nice": false, "zero": false}, "axis": null},
    "y": {"field": "v", "type": "quantitative", "scale": {"type": "log", "domain": [0.00001, 1000000], "nice": false}, "axis": null},
    "color": {"datum": "13-100 MeV H", "type": "nominal",
              "scale": {"domain": ["0.14-0.62 MeV H", "0.62-2.22 MeV H", "2.2-12 MeV H", "13-100 MeV H"], "range": ["#000000", "#0000ff", "#cc7a5f", "#ff0000"]}}
   }}
 ]
},
{
 "width": 696, "height": 180,
 "resolve": {"axis": {"x": "independent", "y": "independent"}},
 "layer": [
  {"data": {"name": "p3a"}, "mark": {"type": "rule", "strokeWidth": 2},
   "encoding": {
    "x": {"field": "s", "type": "quantitative", "scale": {"domain": [0,168], "nice": false, "zero": false},
          "axis": {"orient": "bottom", "values": [0,12,24,36,48,60,72,84,96,108,120,132,144,156,168], "tickSize": -5, "labels": false, "title": null}},
    "x2": {"field": "e"},
    "y": {"field": "v", "type": "quantitative", "scale": {"type": "log", "domain": [0.001, 10000], "nice": false},
          "axis": {"orient": "left", "values": [0.001,0.01,0.1,1,10,100,1000,10000], "tickSize": -15, "labelPadding": 20,
                   "labelExpr": "'10' + (datum.value < 1 ? '⁻' : '') + ['⁰','¹','²','³','⁴','⁵','⁶','⁷','⁸','⁹'][abs(round(log(datum.value)/LN10))]",
                   "title": "1/(cm² s sr MeV/nuc.)", "titlePadding": 7}},
    "color": {"datum": "0.12-1.08 MeV/n He", "type": "nominal",
              "scale": {"domain": ["0.12-1.08 MeV/n He", "0.12-1.08 MeV/n CNO", "0.12-1.08 MeV Fe"], "range": ["#000000", "#0000ff", "#ff0000"]},
              "legend": {"orient": "none", "legendX": -15, "legendY": -17, "direction": "horizontal", "columns": 3, "title": null, "padding": 0,
                         "symbolSize": 0, "symbolOpacity": 0, "symbolStrokeWidth": 0, "labelOffset": 0, "columnPadding": 25, "labelLimit": 400, "labelFontSize": 13,
                         "labelColor": {"expr": "datum.value == '0.12-1.08 MeV/n CNO' ? '#0000ff' : datum.value == '0.12-1.08 MeV Fe' ? '#ff0000' : '#000000'"}}}
   }},
  {"data": {"name": "p3k"}, "mark": {"type": "square", "size": 5, "opacity": 1},
   "encoding": {
    "x": {"field": "h", "type": "quantitative", "scale": {"domain": [0,168], "nice": false, "zero": false},
          "axis": {"orient": "top", "values": [0,12,24,36,48,60,72,84,96,108,120,132,144,156,168], "tickSize": -5, "labels": false, "title": null}},
    "y": {"field": "v", "type": "quantitative", "scale": {"type": "log", "domain": [0.001, 10000], "nice": false},
          "axis": {"orient": "right", "values": [0.001,0.01,0.1,1,10,100,1000,10000], "tickSize": -15, "labels": false, "title": null}},
    "color": {"datum": "0.12-1.08 MeV/n He", "type": "nominal",
              "scale": {"domain": ["0.12-1.08 MeV/n He", "0.12-1.08 MeV/n CNO", "0.12-1.08 MeV Fe"], "range": ["#000000", "#0000ff", "#ff0000"]}}
   }},
  {"data": {"name": "p3c"}, "mark": {"type": "rule", "strokeWidth": 2},
   "encoding": {
    "x": {"field": "s", "type": "quantitative", "scale": {"domain": [0,168], "nice": false, "zero": false}, "axis": null},
    "x2": {"field": "e"},
    "y": {"field": "v", "type": "quantitative", "scale": {"type": "log", "domain": [0.001, 10000], "nice": false}, "axis": null},
    "color": {"datum": "0.12-1.08 MeV/n CNO", "type": "nominal",
              "scale": {"domain": ["0.12-1.08 MeV/n He", "0.12-1.08 MeV/n CNO", "0.12-1.08 MeV Fe"], "range": ["#000000", "#0000ff", "#ff0000"]}}
   }},
  {"data": {"name": "p3cp"}, "mark": {"type": "square", "size": 5, "opacity": 1},
   "encoding": {
    "x": {"field": "h", "type": "quantitative", "scale": {"domain": [0,168], "nice": false, "zero": false}, "axis": null},
    "y": {"field": "v", "type": "quantitative", "scale": {"type": "log", "domain": [0.001, 10000], "nice": false}, "axis": null},
    "color": {"datum": "0.12-1.08 MeV/n CNO", "type": "nominal",
              "scale": {"domain": ["0.12-1.08 MeV/n He", "0.12-1.08 MeV/n CNO", "0.12-1.08 MeV Fe"], "range": ["#000000", "#0000ff", "#ff0000"]}}
   }},
  {"data": {"name": "p3f"}, "mark": {"type": "rule", "strokeWidth": 2},
   "encoding": {
    "x": {"field": "s", "type": "quantitative", "scale": {"domain": [0,168], "nice": false, "zero": false}, "axis": null},
    "x2": {"field": "e"},
    "y": {"field": "v", "type": "quantitative", "scale": {"type": "log", "domain": [0.001, 10000], "nice": false}, "axis": null},
    "color": {"datum": "0.12-1.08 MeV Fe", "type": "nominal",
              "scale": {"domain": ["0.12-1.08 MeV/n He", "0.12-1.08 MeV/n CNO", "0.12-1.08 MeV Fe"], "range": ["#000000", "#0000ff", "#ff0000"]}}
   }}
 ]
},
{
 "width": 696, "height": 180,
 "resolve": {"axis": {"x": "independent", "y": "independent"}},
 "layer": [
  {"data": {"name": "p4k"}, "mark": {"type": "rule", "strokeWidth": 1.5},
   "encoding": {
    "x": {"field": "s", "type": "quantitative", "scale": {"domain": [0,168], "nice": false, "zero": false},
          "axis": {"orient": "bottom", "values": [0,12,24,36,48,60,72,84,96,108,120,132,144,156,168], "tickSize": -5, "labelPadding": 13,
                   "labelExpr": "datum.value % 48 == 24 ? (17 + datum.value/24) + '-Aug' : ''",
                   "title": "STEREO Ahead", "titleX": 0, "titleY": 34, "titleAlign": "left", "titleBaseline": "alphabetic"}},
    "x2": {"field": "e"},
    "y": {"field": "v", "type": "quantitative", "scale": {"type": "log", "domain": [0.00001, 1000], "nice": false},
          "axis": {"orient": "left", "values": [0.00001,0.0001,0.001,0.01,0.1,1,10,100,1000],
                   "tickSize": {"condition": {"test": "round(log(datum.value)/LN10) % 2 == 0", "value": -15}, "value": -7},
                   "labelPadding": 20,
                   "labelExpr": "round(log(datum.value)/LN10) % 2 == 0 ? '10' + (datum.value < 1 ? '⁻' : '') + ['⁰','¹','²','³','⁴','⁵','⁶','⁷','⁸','⁹'][abs(round(log(datum.value)/LN10))] : ''",
                   "title": "1/(cm² s sr MeV/nuc.)", "titlePadding": 7}},
    "color": {"datum": "4 to 12 MeV/n He", "type": "nominal",
              "scale": {"domain": ["4 to 12 MeV/n He", "4 to 12 MeV/n CNO", "4 to 12 MeV Fe"], "range": ["#000000", "#0000ff", "#ff0000"]},
              "legend": {"orient": "none", "legendX": -15, "legendY": -17, "direction": "horizontal", "columns": 3, "title": null, "padding": 0,
                         "symbolSize": 0, "symbolOpacity": 0, "symbolStrokeWidth": 0, "labelOffset": 0, "columnPadding": 25, "labelLimit": 400, "labelFontSize": 13,
                         "labelColor": {"expr": "datum.value == '4 to 12 MeV/n CNO' ? '#0000ff' : datum.value == '4 to 12 MeV Fe' ? '#ff0000' : '#000000'"}}}
   }},
  {"data": {"name": "p4kp"}, "mark": {"type": "square", "size": 5, "opacity": 1},
   "encoding": {
    "x": {"field": "h", "type": "quantitative", "scale": {"domain": [0,168], "nice": false, "zero": false},
          "axis": {"orient": "top", "values": [0,12,24,36,48,60,72,84,96,108,120,132,144,156,168], "tickSize": -5, "labels": false, "title": null}},
    "y": {"field": "v", "type": "quantitative", "scale": {"type": "log", "domain": [0.00001, 1000], "nice": false},
          "axis": {"orient": "right", "values": [0.00001,0.0001,0.001,0.01,0.1,1,10,100,1000],
                   "tickSize": {"condition": {"test": "round(log(datum.value)/LN10) % 2 == 0", "value": -15}, "value": -7},
                   "labels": false, "title": null}},
    "color": {"datum": "4 to 12 MeV/n He", "type": "nominal",
              "scale": {"domain": ["4 to 12 MeV/n He", "4 to 12 MeV/n CNO", "4 to 12 MeV Fe"], "range": ["#000000", "#0000ff", "#ff0000"]}}
   }},
  {"data": {"name": "p4c"}, "mark": {"type": "rule", "strokeWidth": 1.5},
   "encoding": {
    "x": {"field": "s", "type": "quantitative", "scale": {"domain": [0,168], "nice": false, "zero": false},
          "axis": {"orient": "bottom", "ticks": false, "labels": false, "title": "Start: 17-Aug-2018 00:00 UTC", "titleX": 212, "titleY": 34, "titleAlign": "left", "titleBaseline": "alphabetic"}},
    "x2": {"field": "e"},
    "y": {"field": "v", "type": "quantitative", "scale": {"type": "log", "domain": [0.00001, 1000], "nice": false}, "axis": null},
    "color": {"datum": "4 to 12 MeV/n CNO", "type": "nominal",
              "scale": {"domain": ["4 to 12 MeV/n He", "4 to 12 MeV/n CNO", "4 to 12 MeV Fe"], "range": ["#000000", "#0000ff", "#ff0000"]}}
   }},
  {"data": {"name": "p4cp"}, "mark": {"type": "square", "size": 5, "opacity": 1},
   "encoding": {
    "x": {"field": "h", "type": "quantitative", "scale": {"domain": [0,168], "nice": false, "zero": false}, "axis": null},
    "y": {"field": "v", "type": "quantitative", "scale": {"type": "log", "domain": [0.00001, 1000], "nice": false}, "axis": null},
    "color": {"datum": "4 to 12 MeV/n CNO", "type": "nominal",
              "scale": {"domain": ["4 to 12 MeV/n He", "4 to 12 MeV/n CNO", "4 to 12 MeV Fe"], "range": ["#000000", "#0000ff", "#ff0000"]}}
   }}
 ]
}
]
}
